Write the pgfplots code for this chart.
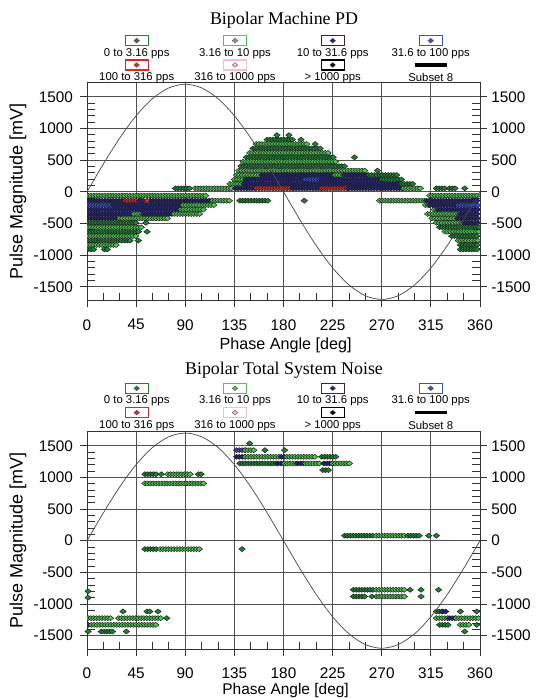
\documentclass[border=0pt]{standalone}
\usepackage{fontspec}
\setmainfont{Liberation Sans}
\newfontfamily\titlefont{Liberation Serif}
\usepackage{pgfplots}
\usepackage{pgfplotstable}
\pgfplotsset{compat=1.18}
\usetikzlibrary{decorations.markings}

\definecolor{c1}{RGB}{30,132,52}
\definecolor{c2}{RGB}{80,196,84}
\definecolor{c3}{RGB}{36,36,124}
\definecolor{c4}{RGB}{60,80,200}
\definecolor{c5}{RGB}{226,36,36}
\definecolor{c6}{RGB}{250,190,200}
\definecolor{gridc}{RGB}{80,80,80}

\newcommand\tickfont{\fontsize{11.5}{13}\selectfont}
\newcommand\legfont{\fontsize{8.5}{10}\selectfont}

% one diamond, used along each run of points
\newcommand\dia[1]{\filldraw[fill=#1,draw=black!90,line width=0.35pt]
  (-2.4pt,0pt)--(0pt,1.9pt)--(2.4pt,0pt)--(0pt,-1.9pt)--cycle;}
\pgfdeclareplotmark{dia}{%
  \pgfpathmoveto{\pgfqpoint{-2.4pt}{0pt}}\pgfpathlineto{\pgfqpoint{0pt}{1.9pt}}%
  \pgfpathlineto{\pgfqpoint{2.4pt}{0pt}}\pgfpathlineto{\pgfqpoint{0pt}{-1.9pt}}%
  \pgfpathclose\pgfusepathqfillstroke}

\pgfplotsset{
  seg/.style={draw=none, postaction={decorate, decoration={markings,
      mark=between positions 0 and 1 step 2.1pt with {\dia{#1}}}}},
  pt/.style={only marks, mark=dia, mark options={fill=#1, draw=black!90, line width=0.35pt}},
  sine/.style={smooth, black!70, line width=0.55pt},
  pdbase/.style={
    anchor=south west, scale only axis, width=294.75pt, height=163.3pt,
    xmin=0, xmax=360, ymin=-1720, ymax=1720,
    ytick={-1500,-1000,...,1500},
    ticklabel style={font=\tickfont},
    /pgf/number format/assume math mode=true,
    /pgf/number format/1000 sep={},
    tick align=outside, major tick length=5pt,
  },
  pdmain/.style={pdbase,
    xtick={0,45,...,360}, minor x tick num=2, minor y tick num=4,
    xtick pos=left, ytick pos=both,
    minor tick length=-6pt,
    grid=major, major grid style={gridc, line width=0.6pt},
    axis line style={black!80, line width=0.7pt},
    tick style={black!80, line width=0.6pt},
    xticklabel style={yshift=-5.5pt},
    yticklabel style={xshift=-2pt},
  },
  pdright/.style={pdbase, axis x line=none, axis y line*=right,
    axis line style={black!80, line width=0.7pt},
    ytick style={draw=none}, minor y tick num=0},
}
\newcommand\seg[4]{\addplot[seg=#1] coordinates {(#2,#4) (#3,#4)};}
\newcommand\pnt[3]{\addplot[pt=#1] coordinates {(#2,#3)};}

\newcommand\legitem[4]{%
  \draw[#3, line width=0.8pt] ({#1-11.5},{#2-5}) rectangle ({#1+11.5},{#2+5});
  \filldraw[fill=#3, draw=black!70, line width=0.25pt] ({#1-2.8},{#2}) -- ({#1},{#2+2.4})
    -- ({#1+2.8},{#2}) -- ({#1},{#2-2.4}) -- cycle;
  \node[font=\legfont, inner sep=0pt] at ({#1},{#2-12.8}) {#4};}
\newcommand\pdlegend[1]{%
  \legitem{136.7}{#1}{c1}{0 to 3.16 pps}
  \legitem{235}{#1}{c2}{3.16 to 10 pps}
  \legitem{332.7}{#1}{c3}{10 to 31.6 pps}
  \legitem{430.7}{#1}{c4}{31.6 to 100 pps}
  \legitem{136.7}{#1-24.3}{c5}{100 to 316 pps}
  \legitem{235}{#1-24.3}{c6}{316 to 1000 pps}
  \legitem{332.7}{#1-24.3}{black}{> 1000 pps}
  \draw[black, line width=2.5pt] (415,{#1-24.3}) -- (447,{#1-24.3});
  \node[font=\legfont, inner sep=0pt] at (430.7,{#1-24.3-12.8}) {Subset 8};}

\pgfplotstableread{
x y
0 0
15 440
30 850
45 1202
60 1472
75 1642
90 1700
105 1642
120 1472
135 1202
150 850
165 440
180 0
195 -440
210 -850
225 -1202
240 -1472
255 -1642
270 -1700
285 -1642
300 -1472
315 -1202
330 -850
345 -440
360 0
}\sinetab

\begin{document}
\begin{tikzpicture}[x=0.75pt,y=0.75pt]
% ---------------- Bipolar Machine PD ----------------
\begin{axis}[pdmain, at={(65.25pt,297.98pt)}]
\pnt{c1}{174}{895} \pnt{c1}{185}{895}
\seg{c1}{165}{189}{825} \pnt{c1}{196}{825}
\seg{c2}{155}{203}{755} \pnt{c1}{209}{755}
\seg{c1}{152}{214}{685}
\seg{c2}{149}{222}{615}
\seg{c1}{146}{226}{545} \pnt{c1}{245}{545}
\seg{c2}{143}{229}{475}
\seg{c1}{141}{238}{405}
\seg{c2}{139}{255}{335} \pnt{c1}{266}{335}
\seg{c2}{137}{160}{265} \seg{c3}{160}{227}{265} \seg{c2}{227}{236}{265} \seg{c3}{236}{258}{265} \seg{c1}{258}{285}{265}
\seg{c2}{135}{146}{195} \seg{c3}{146}{200}{195} \seg{c4}{200}{215}{195} \seg{c3}{215}{270}{195} \seg{c1}{270}{290}{195}
\seg{c2}{131}{144}{125} \seg{c3}{144}{288}{125} \seg{c1}{288}{300}{125}
\seg{c1}{81}{96}{55} \seg{c2}{99}{133}{55} \seg{c3}{136}{155}{55} \seg{c5}{155}{189}{55}
\seg{c3}{189}{215}{55} \seg{c5}{215}{240}{55} \seg{c3}{240}{290}{55} \seg{c2}{290}{307}{55}
\seg{c1}{320}{330}{55} \seg{c1}{332}{339}{55} \pnt{c1}{346}{55}
\seg{c2}{1}{110}{-60} \seg{c2}{314}{359}{-60}
\seg{c3}{1}{35}{-140} \seg{c5}{35}{49}{-140} \seg{c3}{49}{53}{-140} \pnt{c5}{55}{-140}
\seg{c3}{58}{115}{-140} \seg{c2}{115}{132}{-140} \seg{c1}{140}{168}{-140} \pnt{c1}{199}{-140}
\seg{c2}{268}{311}{-140} \seg{c3}{311}{359}{-140}
\seg{c4}{1}{25}{-210} \seg{c3}{25}{88}{-210} \seg{c2}{88}{117}{-210} \seg{c2}{310}{314}{-210} \seg{c3}{314}{340}{-210} \seg{c4}{340}{359}{-210}
\seg{c3}{1}{86}{-280} \seg{c2}{86}{108}{-280} \seg{c2}{318}{322}{-280} \seg{c3}{322}{359}{-280}
\seg{c3}{1}{43}{-350} \seg{c2}{43}{52}{-350} \seg{c3}{52}{80}{-350} \seg{c2}{80}{105}{-350} \seg{c2}{312}{342}{-350} \seg{c3}{342}{359}{-350}
\seg{c3}{1}{30}{-420} \seg{c2}{30}{75}{-420} \seg{c2}{316}{340}{-420} \seg{c3}{340}{359}{-420}
\seg{c1}{1}{47}{-490} \pnt{c1}{54}{-490} \seg{c2}{320}{345}{-490} \seg{c3}{345}{359}{-490}
\seg{c2}{1}{52}{-560} \seg{c1}{323}{359}{-560}
\seg{c1}{1}{48}{-630} \pnt{c1}{55}{-630} \seg{c2}{328}{359}{-630}
\seg{c2}{1}{45}{-700} \seg{c1}{334}{359}{-700}
\seg{c1}{1}{40}{-770} \pnt{c1}{47}{-770} \seg{c2}{340}{359}{-770}
\seg{c2}{1}{27}{-840} \seg{c1}{342}{359}{-840}
\seg{c1}{1}{7}{-910} \seg{c1}{16}{21}{-910} \seg{c1}{342}{359}{-910}
\addplot[sine] table {\sinetab};
\end{axis}
\begin{axis}[pdright, at={(65.25pt,297.98pt)}]
\end{axis}
% ---------------- Bipolar Total System Noise ----------------
\begin{axis}[pdmain, at={(65.25pt,36.34pt)}]
\pnt{c1}{149}{1536}
\seg{c4}{137}{145}{1430} \seg{c2}{145}{154}{1430} \pnt{c1}{163}{1430} \pnt{c1}{181}{1430}
\seg{c3}{137}{145}{1325} \seg{c2}{145}{178}{1325} \seg{c3}{178}{183}{1325} \seg{c2}{183}{209}{1325} \seg{c1}{215}{230}{1325}
\seg{c1}{140}{175}{1220} \seg{c3}{175}{181}{1220} \seg{c2}{181}{193}{1220} \seg{c3}{193}{200}{1220}
\seg{c2}{200}{215}{1220} \seg{c3}{217}{225}{1220} \seg{c2}{225}{241}{1220}
\seg{c1}{216}{222}{1115}
\seg{c1}{53}{64}{1050} \pnt{c1}{68}{1050} \seg{c2}{74}{97}{1050} \seg{c1}{102}{107}{1050}
\seg{c2}{53}{108}{904}
\seg{c1}{236}{262}{79} \seg{c2}{265}{291}{79} \seg{c1}{294}{305}{79} \pnt{c1}{313}{79} \pnt{c1}{320}{79}
\seg{c1}{53}{64}{-133} \seg{c2}{67}{103}{-133} \pnt{c1}{142}{-133}
\seg{c1}{244}{262}{-776} \seg{c2}{265}{291}{-776} \pnt{c1}{296}{-776} \pnt{c1}{306}{-776} \pnt{c1}{322}{-776}
\seg{c1}{244}{255}{-882} \pnt{c1}{261}{-882} \seg{c2}{265}{291}{-882} \pnt{c1}{306}{-882}
\pnt{c1}{1}{-800} \pnt{c1}{1}{-900}
\pnt{c1}{33}{-1119} \seg{c1}{55}{59}{-1119} \pnt{c1}{65}{-1119}
\seg{c2}{1}{24}{-1224} \seg{c2}{29}{68}{-1224} \pnt{c1}{73}{-1224}
\seg{c3}{1}{3}{-1330} \seg{c2}{4}{64}{-1330}
\pnt{c1}{1}{-1435} \seg{c1}{13}{24}{-1435} \pnt{c1}{36}{-1435}
\seg{c1}{320}{326}{-1119} \seg{c3}{326}{330}{-1119} \pnt{c1}{342}{-1119} \pnt{c1}{357}{-1119}
\seg{c2}{320}{332}{-1224} \seg{c3}{332}{338}{-1224} \seg{c2}{338}{359}{-1224}
\seg{c1}{323}{333}{-1330} \seg{c2}{342}{352}{-1330} \pnt{c1}{357}{-1330}
\pnt{c1}{346}{-1435}
\addplot[sine] table {\sinetab};
\end{axis}
\begin{axis}[pdright, at={(65.25pt,36.34pt)}]
\end{axis}
% ---------------- titles, labels, legends ----------------
\node[font=\titlefont\fontsize{13.4}{15}\selectfont] at (284,678) {Bipolar Machine PD};
\node[font=\titlefont\fontsize{13.4}{15}\selectfont] at (284,328) {Bipolar Total System Noise};
\pdlegend{657.3}
\pdlegend{309.7}
\node[font=\fontsize{12.1}{14}\selectfont, inner sep=0pt] at (285.6,352.8) {Phase Angle [deg]};
\node[font=\fontsize{11.6}{13}\selectfont, inner sep=0pt] at (285.6,7.5) {Phase Angle [deg]};
\node[font=\fontsize{13.5}{15}\selectfont, rotate=90] at (18,506.3) {Pulse Magnitude [mV]};
\node[font=\fontsize{13.5}{15}\selectfont, rotate=90] at (18,157.3) {Pulse Magnitude [mV]};
\pgfresetboundingbox
\path[use as bounding box] (0,0) rectangle (542,698);
\end{tikzpicture}
\end{document}
